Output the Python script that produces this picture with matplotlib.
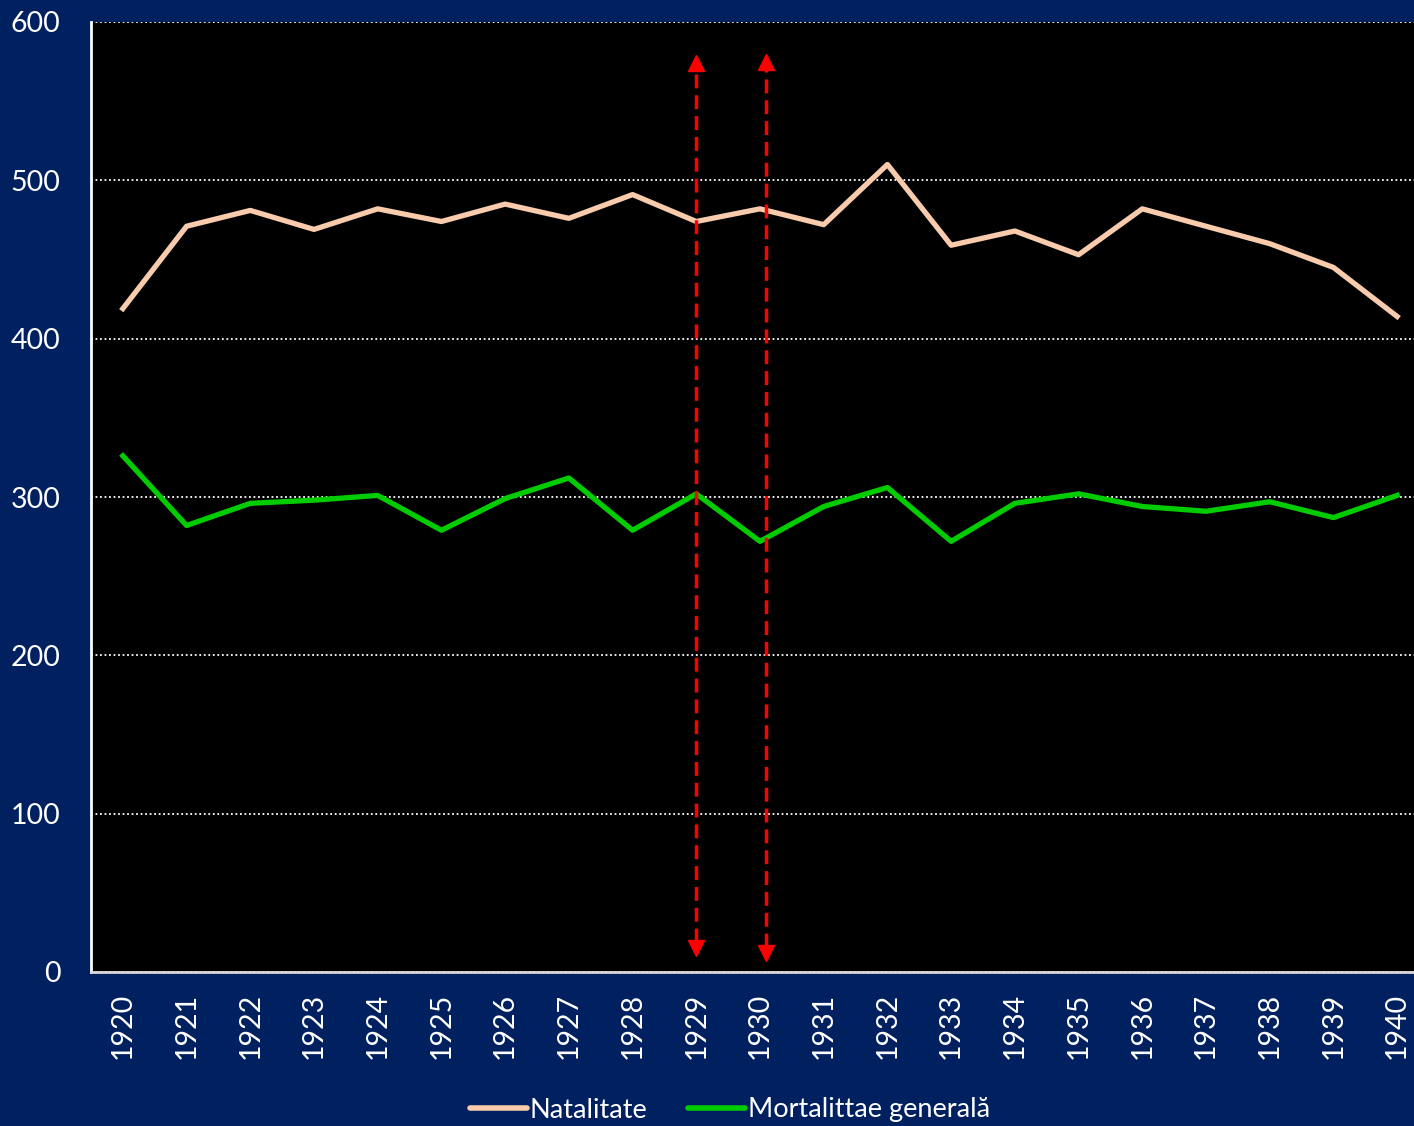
import numpy as np
import matplotlib
matplotlib.use("Agg")
import matplotlib.pyplot as plt
from matplotlib.lines import Line2D

years = [str(y) for y in range(1920, 1941)]
natalitate = [419, 471, 481, 469, 482, 474, 485, 476, 491, 474, 482, 472,
              510, 459, 468, 453, 482, 471, 460, 445, 414]
mortalitate = [326, 282, 296, 298, 301, 279, 299, 312, 279, 302, 272, 294,
               306, 272, 296, 302, 294, 291, 297, 287, 301]

# red dashed double arrows (category position, bottom value, top value)
arrow_x = [9.0, 10.1]
arrow_bottom = [11, 8]
arrow_top = [578, 579]

bg = "#002060"
plt.rcParams["font.family"] = ["Lato", "DejaVu Sans"]

fig = plt.figure(figsize=(14.14, 11.26), dpi=100, facecolor=bg)
ax = fig.add_axes([91 / 1414, 154 / 1126, 1338 / 1414, 950 / 1126])
ax.set_facecolor("black")

x = np.arange(len(years))
ax.plot(x, natalitate, color="#F8CBAD", lw=3.8, solid_joinstyle="round", zorder=3)
ax.plot(x, mortalitate, color="#00CC00", lw=3.8, solid_joinstyle="round", zorder=3)

# arrows
for xa, yb, yt in zip(arrow_x, arrow_bottom, arrow_top):
    ax.plot([xa, xa], [yb + 8, yt - 8], color="red", lw=2.5, ls=(0, (4, 2)), zorder=4)
    ax.plot(xa, yt - 4, marker="^", ms=12, color="red", mec="red", zorder=5)
    ax.plot(xa, yb + 4, marker="v", ms=12, color="red", mec="red", zorder=5)

ax.set_xlim(-0.5, len(years) - 0.5)
ax.set_ylim(0, 600)
ax.set_yticks(np.arange(0, 601, 100))
ax.set_xticks(x)
ax.set_xticklabels(years, rotation=90)
ax.tick_params(axis="both", length=0, colors="white", labelsize=20.5)
ax.tick_params(axis="x", pad=15)
ax.tick_params(axis="y", pad=22)

ax.yaxis.grid(True, color="white", ls=(0, (1, 1.5)), lw=1.3)
ax.set_axisbelow(True)
for s in ["top", "right"]:
    ax.spines[s].set_visible(False)
ax.spines["left"].set_color("white")
ax.spines["left"].set_linewidth(2)
ax.spines["bottom"].set_color("#d9d9d9")
ax.spines["bottom"].set_linewidth(2)

handles = [Line2D([], [], color="#F8CBAD", lw=4, solid_capstyle="round"),
           Line2D([], [], color="#00CC00", lw=4, solid_capstyle="round")]
leg = fig.legend(handles, ["Natalitate", "Mortalittae generală"],
                 loc="center", bbox_to_anchor=(730 / 1414, 1 - 1110 / 1126),
                 ncol=2, frameon=False, fontsize=19.5, handlelength=2.1,
                 handletextpad=0.1, columnspacing=1.5)
for t in leg.get_texts():
    t.set_color("white")

fig.savefig("out.png", dpi=100, facecolor=bg)
